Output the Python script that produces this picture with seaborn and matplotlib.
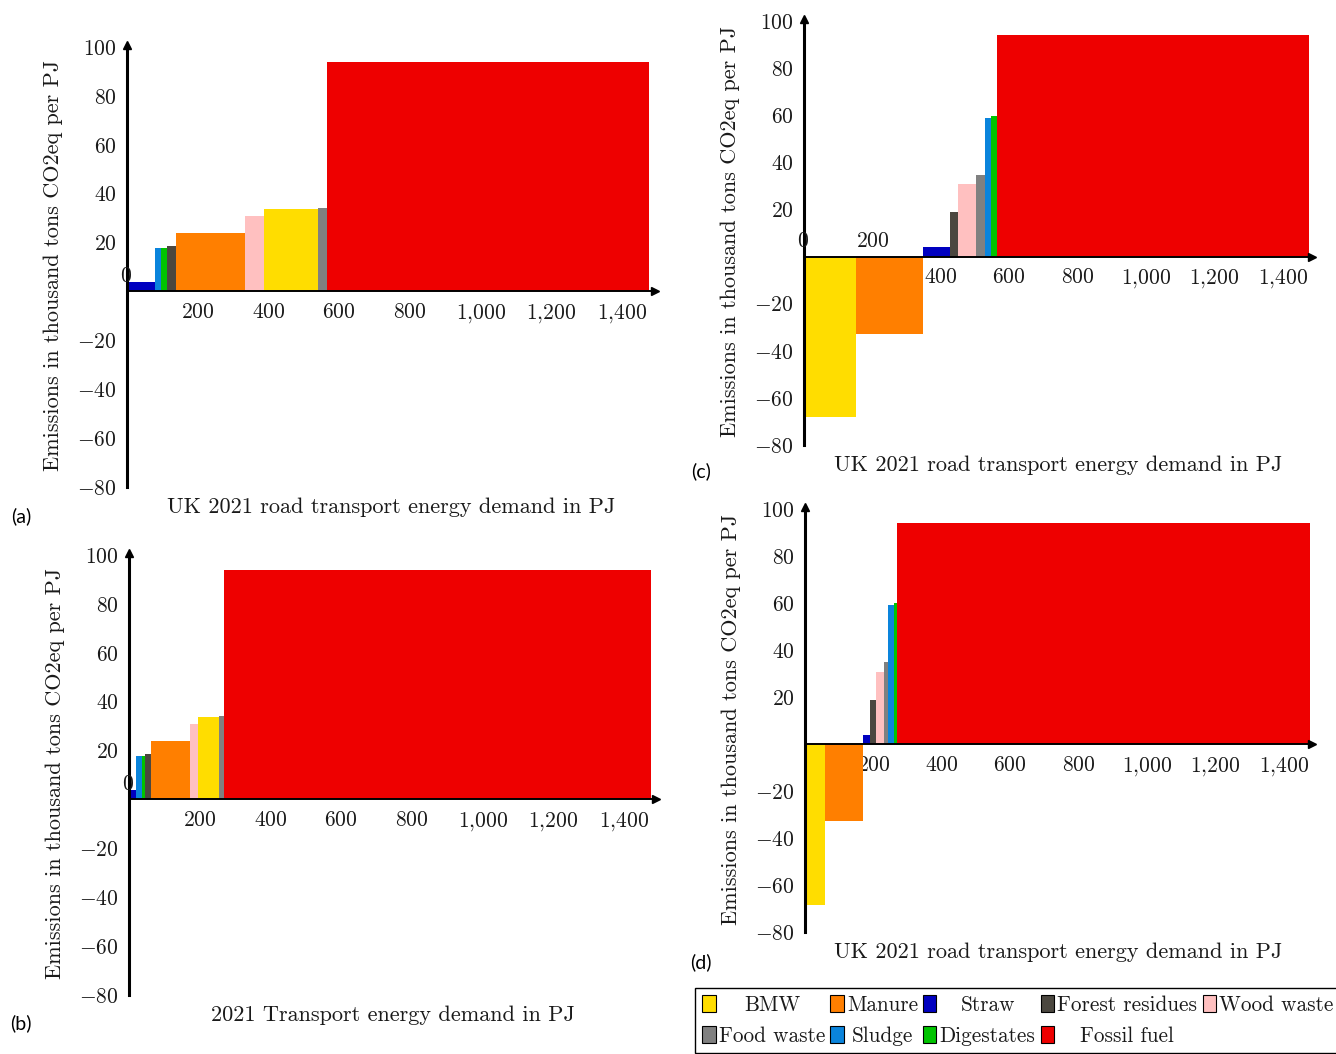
import numpy as np
import pandas as pd
import matplotlib
matplotlib.use('Agg')
import matplotlib.pyplot as plt
import seaborn as sns
from matplotlib.patches import Patch
from matplotlib.transforms import Affine2D

W, H = 1336, 1054

sources = ['BMW', 'Manure', 'Straw', 'Forest residues', 'Wood waste',
           'Food waste', 'Sludge', 'Digestates', 'Fossil fuel']
colors = ['#FFDD00', '#FF7F00', '#0000C0', '#4B473F', '#FFC0C0',
          '#808080', '#0A84DC', '#00C400', '#EE0000']

# energy supplied per source (PJ); fossil fuel covers the rest of demand
supply_full = [152, 195, 79, 24, 54, 26, 16, 19, 910]
supply_part = [59, 111, 21, 16, 24, 13, 17, 7, 1207]

# emission factors (thousand t CO2eq per PJ)
emis_plain = [33.8, 23.8, 3.8, 18.8, 31.0, 34.0, 17.7, 17.8, 94.0]
emis_credit = [-68.3, -32.7, 4.0, 18.7, 30.7, 34.7, 59.0, 59.8, 94.0]

x_ticks = [200, 400, 600, 800, 1000, 1200, 1400]
y_ticks = [-80, -60, -40, -20, 20, 40, 60, 80, 100]

xlabel_uk = 'UK 2021 road transport energy demand in PJ'
xlabel_tr = '2021 Transport energy demand in PJ'
ylabel = 'Emissions in thousand tons CO2eq per PJ'

sns.set_theme(style='white')
plt.rcParams['font.family'] = ['cmr10', 'DejaVu Serif']
plt.rcParams['mathtext.fontset'] = 'cm'
plt.rcParams['axes.formatter.use_mathtext'] = True

FS_TICK = 15.5
FS_LAB = 16
FS_LEG = 15.3
TXT = '#1a1a1a'


def rect(l, t, r, b):
    return [l / W, 1 - b / H, (r - l) / W, (b - t) / H]


def draw_panel(ax, supply, emis, xmax, xlabel, show_zero=True, above=()):
    df = pd.DataFrame({'source': sources, 'color': colors,
                       'supply': supply, 'emis': emis})
    df = df.sort_values('emis', kind='stable').reset_index(drop=True)
    df['start'] = df['supply'].cumsum() - df['supply']

    ax.bar(df['start'], df['emis'], width=df['supply'], align='edge',
           color=df['color'], linewidth=0, zorder=1)

    ax.set_xlim(0, xmax)
    ax.set_ylim(-80, 101)
    sns.despine(ax=ax)
    ax.spines['left'].set_position(('data', 0))
    ax.spines['bottom'].set_position(('data', 0))
    ax.spines['left'].set_linewidth(2.2)
    ax.spines['bottom'].set_linewidth(1.4)
    ax.spines['left'].set_color('black')
    ax.spines['bottom'].set_color('black')
    ax.plot([1], [0], marker='>', color='black', ms=6,
            transform=ax.get_yaxis_transform(), clip_on=False, zorder=5)
    ax.plot([0], [1], marker='^', color='black', ms=6,
            transform=ax.get_xaxis_transform(), clip_on=False, zorder=5)

    xlabels = ['' if v in above else ('$' + f'{v:,}'.replace(',', '{,}') + '$')
               for v in x_ticks]
    ax.set_xticks(x_ticks)
    ax.set_xticklabels(xlabels)
    ax.set_yticks(y_ticks)
    ax.set_yticklabels([f'${v}$' for v in y_ticks])
    ax.tick_params(direction='inout', length=6, width=0.9, color='#666666',
                   labelsize=FS_TICK, labelcolor=TXT, pad=4.5)
    ax.tick_params(axis='x', pad=5)

    for v in above:
        ax.annotate(f'${v}$', xy=(v, 0), xytext=(0, 15), textcoords='offset pixels',
                    ha='center', va='center', fontsize=FS_TICK, color=TXT, zorder=6)
    if show_zero:
        ax.annotate('$0$', xy=(0, 0), xytext=(-1, 15), textcoords='offset pixels',
                    ha='center', va='center', fontsize=FS_TICK, color=TXT, zorder=6)

    ax.annotate(xlabel, xy=(0.5, 0), xycoords='axes fraction', xytext=(0, -20),
                textcoords='offset pixels', ha='center', va='center',
                fontsize=FS_LAB, color=TXT)
    ax.annotate(ylabel, xy=(0, 0.5), xycoords='axes fraction', xytext=(-74, 0),
                textcoords='offset pixels', ha='center', va='center',
                rotation=90, fontsize=FS_LAB, color=TXT)


fig = plt.figure(figsize=(W / 100, H / 100), dpi=100)

ax_a = fig.add_axes(rect(127, 44.6, 655, 487))
draw_panel(ax_a, supply_full, emis_plain, 1493, xlabel_uk)

ax_b = fig.add_axes(rect(129, 552.6, 656, 995))
draw_panel(ax_b, supply_part, emis_plain, 1490, xlabel_tr)

ax_c = fig.add_axes(rect(804, 18.6, 1312, 445))
draw_panel(ax_c, supply_full, emis_credit, 1485, xlabel_uk, above=(200,))

ax_d = fig.add_axes(rect(805, 506.6, 1312, 932))
draw_panel(ax_d, supply_part, emis_credit, 1482, xlabel_uk, show_zero=False)

for tag, (px, py) in {'(a)': (21, 516), '(b)': (21, 1023),
                      '(c)': (701, 471), '(d)': (701, 962)}.items():
    fig.text(px / W, 1 - py / H, tag, family='Lato', fontsize=14,
             ha='center', va='center', color='black')

handles = [Patch(facecolor=c, edgecolor='black', linewidth=0.8, label=s)
           for s, c in zip(sources, colors)]
order = [0, 5, 1, 6, 2, 7, 3, 8, 4]
leg = fig.legend([handles[i] for i in order], [sources[i] for i in order],
                 ncol=5, loc='upper left', bbox_to_anchor=(695 / W, 1 - 988 / H),
                 frameon=True, fancybox=False, edgecolor='black',
                 handlelength=0.62, handleheight=0.85, handletextpad=0.15,
                 columnspacing=0.25, labelspacing=0.5, borderpad=0.35,
                 borderaxespad=0, fontsize=FS_LEG)
leg.get_frame().set_linewidth(1.0)
leg.get_frame().set_alpha(1)

# centre the shorter label of each legend column, like the pgfplots legend
fig.canvas.draw()
texts = leg.get_texts()
renderer = fig.canvas.get_renderer()
for k in range(0, len(texts), 2):
    col = texts[k:k + 2]
    widths = [t.get_window_extent(renderer).width for t in col]
    wmax = max(widths)
    for t, w in zip(col, widths):
        t.set_color(TXT)
        if w < wmax:
            t.set_transform(t.get_transform() + Affine2D().translate((wmax - w) / 2, 0))

fig.savefig('out.png', dpi=100)
